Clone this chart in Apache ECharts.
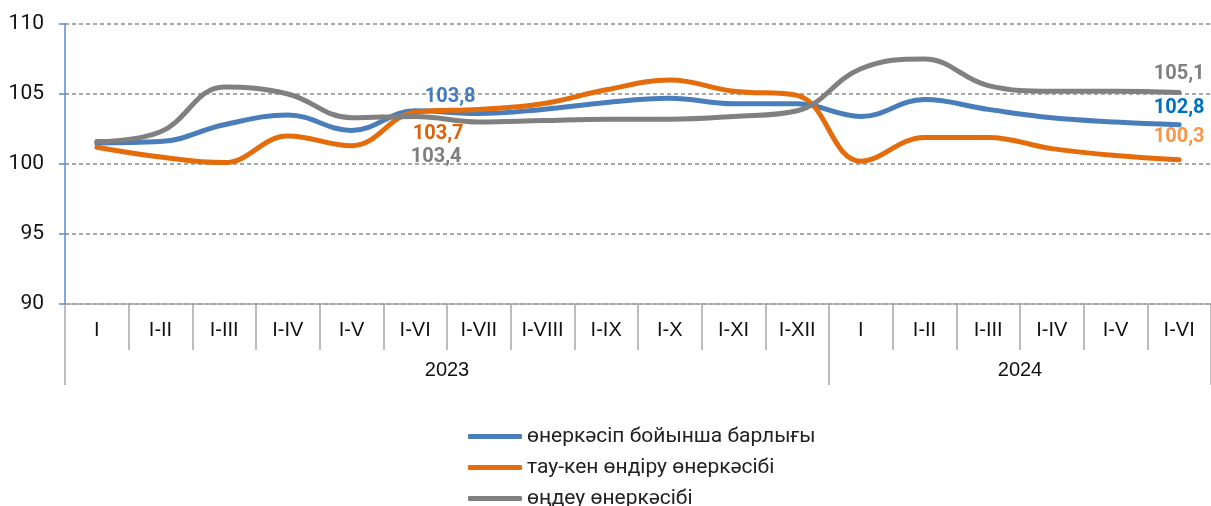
<!DOCTYPE html>
<html>
<head>
<meta charset="utf-8">
<script src="https://cdn.jsdelivr.net/npm/echarts@6/dist/echarts.min.js"></script>
<style>
  html, body { margin: 0; padding: 0; background: #fff; }
  #chart { width: 1211px; height: 506px; }
</style>
</head>
<body>
<div id="chart"></div>
<script>
// months, cumulative from January
const categories = ["I", "I-II", "I-III", "I-IV", "I-V", "I-VI", "I-VII", "I-VIII", "I-IX", "I-X", "I-XI", "I-XII",
  "I", "I-II", "I-III", "I-IV", "I-V", "I-VI"];
const years = ["2023", "2024"];
const yearSpans = [12, 6];

const seriesNames = ["өнеркәсіп бойынша барлығы", "тау-кен өндіру өнеркәсібі", "өңдеу өнеркәсібі"];
const totalValues = [101.5, 101.6, 102.8, 103.5, 102.4, 103.8, 103.6, 103.9, 104.4, 104.7, 104.3, 104.3,
  103.4, 104.6, 103.9, 103.3, 103.0, 102.8];
const miningValues = [101.2, 100.5, 100.1, 102.0, 101.3, 103.7, 103.9, 104.3, 105.3, 106.0, 105.2, 104.9,
  100.2, 101.9, 101.9, 101.1, 100.6, 100.3];
const manufValues = [101.6, 102.3, 105.5, 105.0, 103.3, 103.4, 103.0, 103.1, 103.2, 103.2, 103.4, 103.8,
  106.8, 107.5, 105.6, 105.2, 105.2, 105.1];
const yTicks = [90, 95, 100, 105, 110];

const chart = echarts.init(document.getElementById("chart"));

const fmt = v => v.toFixed(1).replace(".", ",");

// boundaries and centres of the year groups on a 0..n scale
const yearBounds = [0];
yearSpans.forEach(s => yearBounds.push(yearBounds[yearBounds.length - 1] + s));
const yearCentres = years.map((y, i) => (yearBounds[i] + yearBounds[i + 1]) / 2);

const midIdx = 5;
const lastIdx = categories.length - 1;

function buildData(values, midLabel, endLabel) {
  return values.map((v, i) => {
    if (i === midIdx) return { value: v, label: Object.assign({ show: true }, midLabel) };
    if (i === lastIdx) return { value: v, label: Object.assign({ show: true }, endLabel) };
    return v;
  });
}

const labelFont = { fontFamily: "Roboto", fontSize: 20, fontWeight: "bold", formatter: p => fmt(p.value) };

function lineSeries(name, color, data) {
  return {
    name: name,
    type: "line",
    smooth: 0.4,
    symbol: "circle",
    symbolSize: 1,
    showSymbol: true,
    itemStyle: { color: color },
    lineStyle: { color: color, width: 5, cap: "round" },
    label: labelFont,
    emphasis: { disabled: true },
    data: data,
    z: 3
  };
}

const option = {
  animation: false,
  textStyle: { fontFamily: "Roboto" },
  grid: { left: 65, right: -4, top: 24, bottom: 202 },
  legend: {
    orient: "vertical",
    left: 463,
    top: 421,
    height: 140,
    icon: "roundRect",
    itemWidth: 54,
    itemHeight: 5,
    itemGap: 10,
    textStyle: { fontFamily: "Roboto", fontSize: 21, color: "#222", lineHeight: 21 },
    data: seriesNames
  },
  xAxis: [
    {
      type: "category",
      data: categories,
      boundaryGap: true,
      axisLine: { show: true, lineStyle: { color: "#a6a6a6", width: 1.5 } },
      axisTick: { show: true, interval: 0, length: 46, lineStyle: { color: "#a6a6a6", width: 1.5 } },
      axisLabel: { interval: 0, margin: 16, fontFamily: "Liberation Sans", fontSize: 20, color: "#111" },
      splitLine: { show: false }
    },
    {
      type: "value",
      position: "bottom",
      min: 0,
      max: categories.length,
      axisLine: { show: false },
      axisTick: { show: true, customValues: yearBounds, length: 81, lineStyle: { color: "#a6a6a6", width: 1.5 } },
      axisLabel: {
        customValues: yearCentres,
        margin: 56,
        fontFamily: "Liberation Sans",
        fontSize: 20,
        color: "#111",
        formatter: v => years[yearCentres.indexOf(v)] || ""
      },
      splitLine: { show: false }
    }
  ],
  yAxis: {
    type: "value",
    min: yTicks[0],
    max: yTicks[yTicks.length - 1],
    interval: 5,
    axisLine: { show: true, lineStyle: { color: "#5b8bd0", width: 1.5 } },
    axisTick: { show: true, length: 6, lineStyle: { color: "#5b8bd0", width: 1.5 } },
    axisLabel: { margin: 21, fontFamily: "Roboto", fontSize: 21, color: "#111" },
    splitLine: { show: true, lineStyle: { color: "#8c8c8c", type: [4, 3], width: 1.5 } }
  },
  series: [
    lineSeries(seriesNames[0], "#4a7ebb", buildData(totalValues,
      { position: "top", offset: [35, 2], color: "#3f7cc4" },
      { position: "top", distance: 6, color: "#0070c0" })),
    lineSeries(seriesNames[1], "#e46c0a", buildData(miningValues,
      { position: "bottom", offset: [23, 6], color: "#d9620b" },
      { position: "bottom", offset: [0, -38], color: "#f79646" })),
    lineSeries(seriesNames[2], "#808080", buildData(manufValues,
      { position: "bottom", offset: [21, 25], color: "#7f7f7f" },
      { position: "top", distance: 8, color: "#808080" }))
  ]
};

chart.setOption(option);
window.addEventListener("resize", () => chart.resize());
</script>
</body>
</html>
